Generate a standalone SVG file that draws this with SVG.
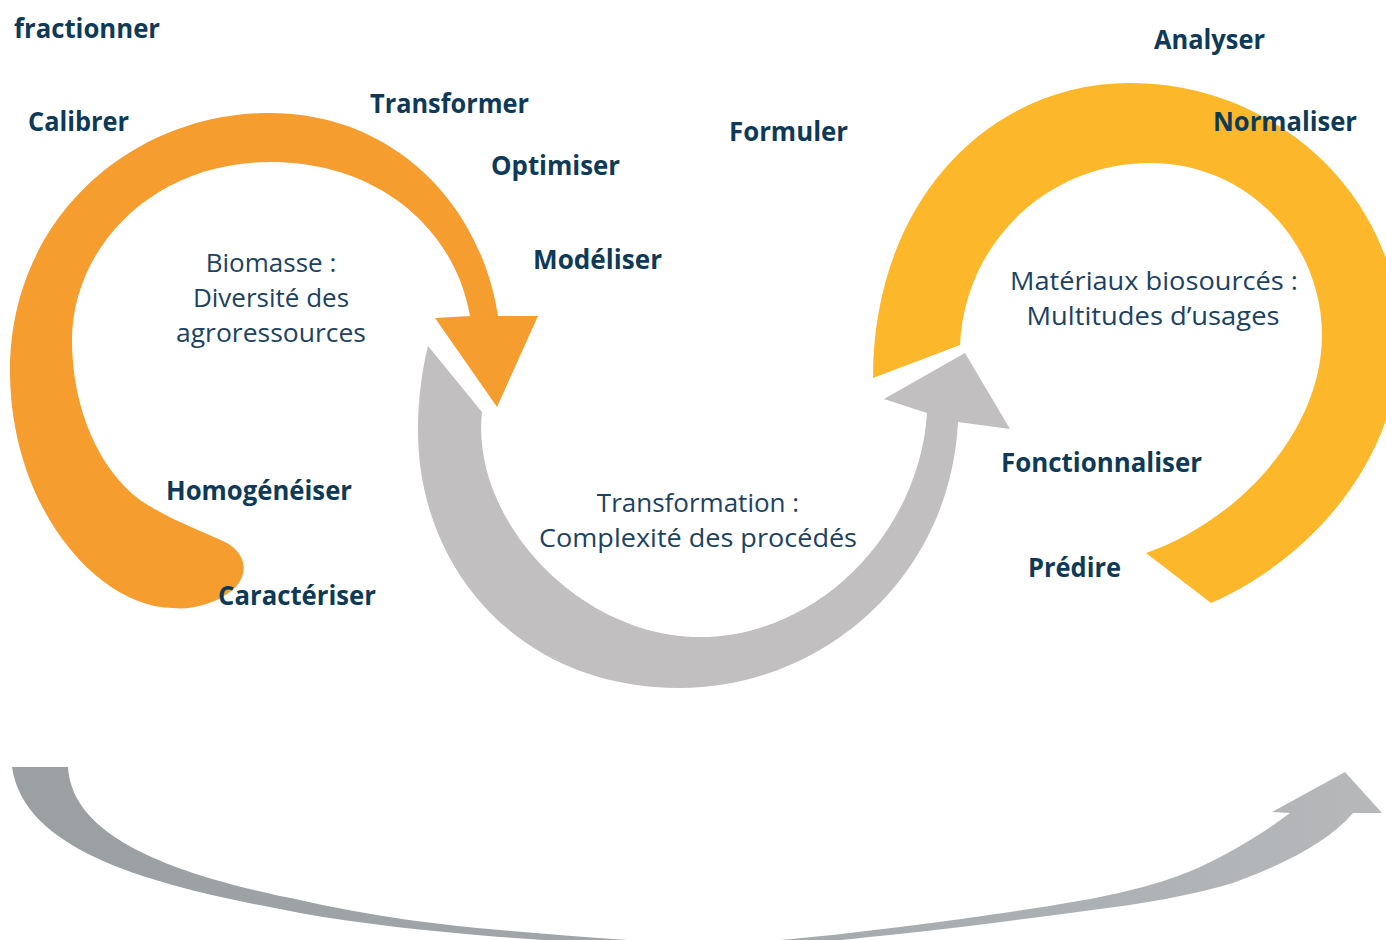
<svg xmlns="http://www.w3.org/2000/svg" width="1386" height="940" viewBox="0 0 1386 940">
<defs>
<linearGradient id="gb" x1="0" y1="0" x2="1386" y2="0" gradientUnits="userSpaceOnUse">
<stop offset="0" stop-color="#9A9FA2"/>
<stop offset="0.5" stop-color="#A3A7AA"/>
<stop offset="1" stop-color="#B6B8BA"/>
</linearGradient>
</defs>
<style>
.lbl{font-family:"Open Sans","Noto Sans",sans-serif;font-weight:700;font-size:26px;fill:#0E3A58}
.cap{font-family:"Open Sans","Noto Sans",sans-serif;font-weight:400;font-size:26px;fill:#1C4262;text-anchor:middle}
</style>
<rect width="1386" height="940" fill="#FFFFFF"/>
<g id="connectors">
<path id="orange-arrow" fill="#F59D2F" d="M498,316 L538,316 L497,407 L435,318 L470,316 C455,230 380,162 270,162 C150,162 72,250 72,340 C72,410 100,470 140,500 C170,520 200,530 225,542 C245,552 250,572 235,588 C215,605 190,610 173,608 C100,608 10,510 10,370 C10,220 130,113 270,113 C390,113 480,200 498,316 Z"/>
<path id="gray-arrow" fill="#C1BFC0" d="M428,346 L482,412 C470,520 580,637 700,637 C820,637 920,530 927,413 L884,399 L965,353 L1010,429 L958,422 C950,580 820,688 680,688 C520,688 418,570 418,430 C418,400 422,370 428,346 Z"/>
<path id="yellow-arc" fill="#FCB82A" d="M960,345 C965,240 1050,163 1150,163 C1250,163 1322,245 1322,335 C1322,430 1240,520 1146,553 L1211,603 C1320,555 1400,450 1400,340 C1400,200 1280,83 1130,83 C990,83 873,200 873,378 Z"/>
<path id="bottom-arrow" fill="url(#gb)" d="M12,767 L68,767 C72,830 150,870 300,900 C370,916 440,925 500,930 C570,936 640,941 700,945 C780,942 850,933 900,927 C950,921 1050,907 1100,897 C1150,887 1180,876 1200,867 C1230,853 1265,832 1290,813 L1272,812 L1345,772 L1382,813 L1353,813 C1330,840 1290,862 1233,883 C1200,893 1150,903 1100,909 C1000,922 900,937 700,952 C640,946 570,942 500,937 C430,931 360,924 300,913 C180,890 25,860 12,767 Z"/>
</g>
<g id="node-biomasse">
<text class="cap" x="271" y="272">Biomasse :</text>
<text class="cap" x="271" y="307">Diversité des</text>
<text class="cap" x="271" y="342" textLength="190" lengthAdjust="spacingAndGlyphs">agroressources</text>
</g>
<g id="node-transformation">
<text class="cap" x="698" y="512">Transformation :</text>
<text class="cap" x="698" y="547" textLength="318" lengthAdjust="spacingAndGlyphs">Complexité des procédés</text>
</g>
<g id="node-materiaux">
<text class="cap" x="1154" y="290" textLength="288" lengthAdjust="spacingAndGlyphs">Matériaux biosourcés :</text>
<text class="cap" x="1153" y="325" textLength="253" lengthAdjust="spacingAndGlyphs">Multitudes d’usages</text>
</g>
<g id="labels">
<text class="lbl" x="14" y="38" textLength="146" lengthAdjust="spacingAndGlyphs">fractionner</text>
<text class="lbl" x="28" y="131" textLength="101" lengthAdjust="spacingAndGlyphs">Calibrer</text>
<text class="lbl" x="370" y="113" textLength="159" lengthAdjust="spacingAndGlyphs">Transformer</text>
<text class="lbl" x="491" y="175" textLength="129" lengthAdjust="spacingAndGlyphs">Optimiser</text>
<text class="lbl" x="729" y="141" textLength="119" lengthAdjust="spacingAndGlyphs">Formuler</text>
<text class="lbl" x="533" y="269" textLength="129" lengthAdjust="spacingAndGlyphs">Modéliser</text>
<text class="lbl" x="1154" y="49" textLength="111" lengthAdjust="spacingAndGlyphs">Analyser</text>
<text class="lbl" x="1213" y="131" textLength="144" lengthAdjust="spacingAndGlyphs">Normaliser</text>
<text class="lbl" x="166" y="500" textLength="186" lengthAdjust="spacingAndGlyphs">Homogénéiser</text>
<text class="lbl" x="218" y="605" textLength="158" lengthAdjust="spacingAndGlyphs">Caractériser</text>
<text class="lbl" x="1001" y="472" textLength="201" lengthAdjust="spacingAndGlyphs">Fonctionnaliser</text>
<text class="lbl" x="1028" y="577" textLength="93" lengthAdjust="spacingAndGlyphs">Prédire</text>
</g>
</svg>
